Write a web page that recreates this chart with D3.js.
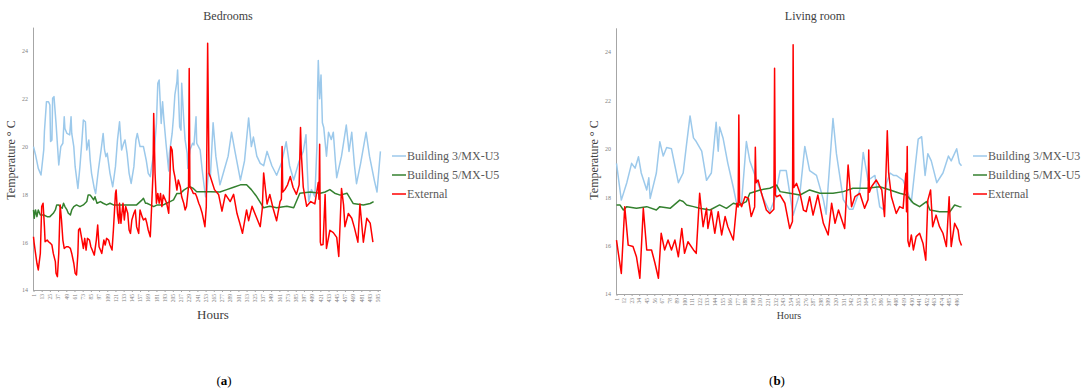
<!DOCTYPE html>
<html><head><meta charset="utf-8">
<script src="https://cdn.jsdelivr.net/npm/d3@7"></script>
<style>
body{margin:0;background:#fff}
svg{display:block}
text{font-family:"Liberation Serif","DejaVu Serif",serif}
</style>
</head><body>
<svg id="c" width="1088" height="391"></svg>
<script>
const seriesNames = ["Building 3/MX-U3", "Building 5/MX-U5", "External"];
const seriesColors = ["#9CC9EB", "#34812F", "#FF0000"];
const yTicks = [14, 16, 18, 20, 22, 24];
const bedTicks = [1,13,25,37,49,61,73,85,97,109,121,133,145,157,169,181,193,205,217,229,241,253,265,277,289,301,313,325,337,349,361,373,385,397,409,421,433,445,457,469,481,493,505];
const livTicks = [1,12,23,34,45,56,67,78,89,100,111,122,133,144,155,166,177,188,199,210,221,232,243,254,265,276,287,298,309,320,331,342,353,364,375,386,397,408,419,430,441,452,463,474,485,496];

// Bedrooms: [hour, °C]
const bedB3 = [[1,20.0],[4,19.65],[8,19.09],[12,18.81],[16,19.86],[17,20.63],[20,21.88],[23,21.88],[25,21.74],[26,20.21],[28,20.28],[29,22.02],[31,22.09],[34,20.97],[38,19.23],[41,20.0],[44,20.14],[46,21.25],[47,20.76],[50,20.55],[54,20.49],[56,21.25],[57,20.55],[60,20.0],[62,19.16],[66,18.25],[69,19.16],[72,20.28],[74,21.11],[77,21.04],[79,19.86],[82,20.28],[84,19.44],[86,18.88],[90,18.25],[92,18.04],[96,19.02],[100,19.86],[103,20.55],[105,19.86],[107,19.58],[109,19.72],[113,18.88],[117,18.32],[121,19.16],[124,20.28],[127,21.04],[130,19.86],[133,20.14],[135,20.28],[138,19.72],[141,18.88],[144,18.46],[148,19.16],[151,20.28],[153,20.55],[157,20.0],[162,20.0],[166,19.44],[169,18.88],[172,18.74],[174,19.16],[178,19.86],[181,20.97],[183,22.65],[185,22.79],[188,20.97],[190,21.88],[192,21.11],[195,20.14],[199,18.98],[200,19.72],[204,20.55],[206,21.25],[208,22.16],[211,22.72],[212,23.2],[215,20.83],[217,20.69],[218,22.65],[221,21.11],[223,20.28],[226,19.72],[227,19.09],[230,19.86],[234,20.14],[236,20.07],[239,21.25],[240,20.14],[245,19.86],[248,19.02],[251,18.32],[253,17.9],[255,18.18],[257,18.88],[260,18.74],[264,21.0],[268,19.6],[274,18.4],[280,19.0],[286,19.6],[291,20.6],[296,19.8],[304,18.6],[310,19.4],[316,21.2],[320,20.0],[323,20.4],[328,19.6],[333,19.3],[338,19.2],[343,19.8],[350,19.2],[357,18.8],[364,19.3],[371,20.2],[376,19.2],[382,18.6],[390,19.4],[396,19.8],[400,20.5],[402,19.0],[404,17.7],[408,18.2],[413,17.9],[416,20.0],[417,22.4],[418,23.6],[420,22.0],[422,23.0],[424,21.0],[426,20.8],[430,19.6],[433,20.6],[437,20.3],[440,20.6],[443,19.4],[445,18.7],[452,19.6],[459,20.9],[463,19.8],[467,20.6],[471,19.2],[474,18.45],[480,19.3],[488,20.6],[493,19.6],[500,18.6],[504,18.1],[509,19.8]];
const bedB5 = [[1,17.35],[2,17.0],[4,17.35],[6,17.07],[8,17.35],[11,17.14],[16,17.14],[21,17.07],[25,17.07],[30,17.21],[33,17.35],[35,17.56],[38,17.56],[40,17.49],[43,17.42],[45,17.63],[47,17.49],[50,17.35],[52,17.21],[55,17.14],[57,17.35],[60,17.49],[64,17.56],[69,17.49],[74,17.56],[79,17.70],[81,17.97],[84,17.97],[86,17.9],[89,17.77],[91,17.9],[94,17.63],[99,17.70],[103,17.63],[108,17.56],[113,17.63],[118,17.56],[123,17.56],[132,17.56],[142,17.56],[152,17.56],[160,17.77],[162,17.84],[165,17.63],[167,17.63],[172,17.56],[177,17.49],[182,17.56],[186,17.56],[191,17.56],[196,17.63],[201,17.70],[206,17.77],[211,18.04],[216,18.04],[221,18.18],[225,18.25],[230,18.32],[235,18.25],[240,18.11],[245,18.11],[250,18.11],[255,18.11],[260,18.11],[274,18.1],[284,18.2],[294,18.3],[304,18.4],[313,18.4],[320,18.2],[328,17.9],[338,17.44],[347,17.5],[357,17.44],[372,17.5],[382,17.44],[391,18.05],[406,18.1],[421,18.05],[428,18.1],[435,18.2],[442,18.05],[450,17.97],[460,18.05],[469,17.62],[484,17.56],[494,17.62],[499,17.7]];
const bedExt = [[1,16.23],[2,15.95],[4,15.53],[6,15.12],[8,14.84],[11,15.53],[13,17.49],[15,17.63],[17,16.65],[18,16.02],[21,16.09],[23,16.02],[26,15.95],[28,15.88],[30,15.53],[33,15.19],[34,14.7],[36,14.56],[38,15.53],[40,17.56],[42,16.93],[44,16.09],[46,15.74],[49,15.81],[52,15.81],[55,15.74],[57,15.53],[60,15.12],[62,14.7],[64,14.63],[66,15.53],[67,16.51],[69,16.58],[72,16.09],[74,15.74],[76,16.16],[78,15.67],[80,16.16],[83,16.09],[85,15.81],[87,15.67],[90,15.46],[93,16.09],[95,16.72],[97,15.81],[99,15.67],[101,15.53],[104,16.09],[106,15.88],[108,16.16],[111,16.09],[113,15.88],[116,15.67],[118,16.51],[121,18.04],[122,18.18],[124,17.21],[126,16.79],[127,17.63],[129,16.79],[132,17.63],[134,16.93],[136,17.49],[139,17.21],[141,16.51],[143,16.37],[145,16.93],[148,17.21],[150,17.35],[152,16.65],[155,16.37],[157,17.35],[160,17.07],[162,16.93],[165,17.0],[167,16.79],[169,16.51],[172,16.23],[174,17.49],[176,18.88],[177,21.39],[179,18.88],[181,17.63],[183,18.04],[185,17.63],[187,18.04],[189,17.49],[191,17.97],[194,17.77],[196,17.63],[199,17.21],[200,17.9],[202,20.0],[204,19.86],[206,19.02],[208,18.74],[211,18.18],[213,18.6],[216,18.32],[218,17.9],[221,17.63],[223,17.35],[225,17.49],[228,18.32],[229,23.27],[230,18.32],[233,18.18],[235,18.04],[238,18.04],[240,17.9],[243,17.63],[245,17.49],[248,17.21],[250,16.93],[252,16.65],[254,17.49],[255,20.5],[256,24.32],[258,18.88],[260,18.74],[266,18.2],[272,18.0],[277,17.3],[282,18.0],[289,17.7],[294,18.0],[299,17.2],[303,16.8],[307,16.37],[313,17.35],[316,16.9],[321,17.5],[328,17.0],[333,16.65],[336,17.4],[338,18.9],[343,17.6],[347,18.0],[352,17.4],[357,16.9],[362,17.7],[364,17.8],[365,20.0],[366,18.1],[369,18.2],[373,18.4],[377,18.75],[381,18.3],[386,18.0],[390,18.4],[392,20.8],[393,19.8],[396,18.3],[401,17.5],[407,17.7],[413,17.6],[418,18.5],[419,17.8],[420,20.1],[421,16.0],[422,15.88],[425,15.9],[428,18.0],[430,15.74],[435,16.5],[440,16.4],[445,16.2],[448,15.4],[452,18.25],[455,17.56],[457,16.65],[462,17.2],[467,17.0],[471,16.6],[476,16.0],[479,17.6],[484,16.0],[489,17.0],[494,16.8],[498,16.0]];

// Living room: [hour, °C]
const livB3 = [[1,19.4],[8,17.88],[16,18.6],[23,19.4],[28,19.2],[33,19.67],[37,19.0],[45,18.3],[48,18.8],[50,17.95],[59,19.0],[64,20.29],[69,19.7],[74,20.05],[81,20.0],[86,19.3],[91,18.6],[98,19.0],[103,20.2],[108,21.36],[113,20.45],[117,20.3],[125,19.9],[132,18.7],[139,19.0],[146,21.1],[149,19.9],[151,20.9],[156,20.45],[163,19.4],[171,18.4],[176,17.7],[183,17.8],[190,20.3],[195,19.5],[205,18.7],[214,18.0],[224,17.4],[231,17.9],[239,19.1],[248,19.1],[258,17.25],[268,18.2],[275,20.1],[282,19.1],[292,18.9],[302,17.9],[306,17.3],[316,21.25],[321,19.8],[331,17.9],[340,17.5],[345,17.5],[355,18.3],[360,19.85],[367,18.7],[377,18.9],[384,17.6],[389,17.5],[394,18.6],[399,19.0],[404,18.9],[408,18.9],[418,18.7],[430,17.8],[440,20.4],[445,20.5],[450,18.9],[454,19.8],[459,19.5],[467,18.6],[476,19.0],[484,19.7],[488,19.5],[496,20.0],[500,19.4],[503,19.3]];
const livB5 = [[1,17.68],[6,17.68],[11,17.47],[16,17.61],[30,17.54],[45,17.61],[59,17.47],[64,17.61],[79,17.54],[93,17.88],[98,17.82],[103,17.68],[113,17.61],[122,17.54],[137,17.47],[151,17.68],[161,17.54],[171,17.75],[180,17.68],[190,17.82],[195,18.16],[210,18.3],[224,18.37],[234,18.5],[239,18.23],[253,18.16],[268,18.09],[282,18.3],[297,18.16],[316,18.16],[331,18.23],[345,18.37],[365,18.37],[384,18.43],[399,18.3],[413,18.16],[423,18.09],[433,17.75],[442,17.61],[452,17.82],[457,17.47],[471,17.4],[486,17.4],[493,17.68],[500,17.61],[503,17.6]];
const livExt = [[1,16.23],[3,15.82],[8,14.85],[13,17.61],[18,16.02],[25,15.96],[30,15.54],[35,14.65],[40,17.54],[45,15.82],[52,15.82],[57,15.27],[62,14.65],[66,16.51],[71,15.82],[76,16.23],[81,15.82],[86,16.23],[91,15.54],[96,16.71],[100,15.68],[105,16.16],[113,15.82],[117,15.68],[122,18.16],[127,16.78],[132,17.54],[134,16.71],[139,17.47],[144,16.51],[149,17.4],[154,16.44],[159,17.2],[163,16.78],[171,16.23],[176,17.75],[178,17.6],[179,21.4],[180,17.8],[183,17.61],[188,18.02],[193,17.95],[197,17.2],[202,17.6],[203,20.06],[204,18.6],[207,18.71],[212,18.16],[219,17.47],[224,17.33],[230,17.5],[231,23.33],[232,18.1],[234,18.02],[239,18.09],[246,17.75],[253,16.71],[257,17.0],[258,24.3],[259,18.4],[263,18.57],[268,18.16],[273,17.47],[277,17.4],[282,18.02],[287,17.26],[294,18.09],[302,16.92],[309,16.44],[314,17.75],[319,16.92],[324,17.47],[333,16.71],[338,19.33],[343,17.61],[348,18.02],[355,18.16],[362,17.54],[367,17.9],[368,19.95],[369,18.2],[372,18.43],[379,18.71],[387,18.3],[391,17.2],[394,19.8],[395,20.75],[397,19.0],[401,18.02],[408,17.33],[413,17.61],[418,17.54],[422,18.99],[423,17.4],[424,20.09],[425,16.2],[427,15.96],[430,16.44],[433,15.82],[437,16.37],[442,16.51],[447,16.09],[451,15.4],[454,17.88],[458,18.3],[461,16.78],[466,17.26],[471,16.78],[476,16.51],[481,15.96],[485,18.02],[488,15.96],[493,16.92],[498,16.64],[500,16.23],[503,16.0]];

const svg = d3.select("#c");

function drawChart(cfg) {
  const g = svg.append("g");
  const x = d3.scaleLinear().domain([1, cfg.lastTick]).range([cfg.x0, cfg.x1]);
  const y = d3.scaleLinear().domain([14, 25]).range([cfg.y0, cfg.yTop]);

  g.append("text").attr("x", cfg.titleX).attr("y", 20).attr("text-anchor", "middle")
    .attr("font-size", 12).attr("fill", "#404040").text(cfg.title);

  const ya = g.append("g").attr("transform", `translate(${cfg.x0 - 0.5},0)`)
    .call(d3.axisLeft(y).tickValues(yTicks).tickSize(0).tickPadding(5));
  ya.select(".domain").attr("stroke", "#A6A6A6").attr("stroke-width", 1);
  ya.selectAll("text").attr("font-size", 6).attr("fill", "#7F7F7F")
    .style("font-family", "'Liberation Serif',serif");

  const xa = g.append("g").attr("transform", `translate(0,${cfg.y0})`)
    .call(d3.axisBottom(x).tickValues(cfg.ticks).tickSize(2).tickSizeOuter(0).tickPadding(2));
  xa.select(".domain").attr("stroke", "#A6A6A6").attr("d", `M${cfg.x0 - 0.5},0.5H${cfg.axisEnd}`);
  xa.selectAll(".tick line").attr("stroke", "#A6A6A6");
  xa.selectAll("text").attr("font-size", 5.5).attr("fill", "#7F7F7F")
    .attr("transform", "rotate(-90)").attr("text-anchor", "end")
    .attr("x", -4).attr("y", 0).attr("dy", "0.32em")
    .style("font-family", "'Liberation Serif',serif");

  g.append("text").attr("x", cfg.xTitleX).attr("y", cfg.xTitleY).attr("text-anchor", "middle")
    .attr("font-size", cfg.xTitleSize).attr("fill", "#404040").text("Hours");
  g.append("text").attr("transform", `translate(${cfg.yTitleX},${cfg.yTitleY}) rotate(-90)`)
    .attr("text-anchor", "middle").attr("font-size", 12).attr("fill", "#404040")
    .text("Temperature ° C");

  const line = d3.line().x(d => x(d[0])).y(d => y(d[1]));
  cfg.series.forEach((s, i) => {
    g.append("path").datum(s).attr("d", line).attr("fill", "none")
      .attr("stroke", seriesColors[i]).attr("stroke-width", 1.5)
      .attr("stroke-linejoin", "round");
  });

  seriesNames.forEach((n, i) => {
    const ly = cfg.legY + i * 19;
    g.append("line").attr("x1", cfg.legX).attr("x2", cfg.legX + 14).attr("y1", ly).attr("y2", ly)
      .attr("stroke", seriesColors[i]).attr("stroke-width", 1.5);
    g.append("text").attr("x", cfg.legX + 15).attr("y", ly).attr("dy", "0.35em")
      .attr("font-size", 12).attr("fill", "#595959").text(n);
  });

  const cap = g.append("text").attr("x", cfg.capX).attr("y", 385).attr("text-anchor", "middle")
    .attr("font-size", 13).attr("fill", "#000");
  cap.append("tspan").text("(");
  cap.append("tspan").attr("font-weight", "bold").text(cfg.cap);
  cap.append("tspan").text(")");
}

drawChart({
  title: "Bedrooms", titleX: 228, ticks: bedTicks, lastTick: 505,
  x0: 33.5, x1: 377.7, axisEnd: 381, y0: 290, yTop: 27.1,
  xTitleX: 213, xTitleY: 319, xTitleSize: 13, yTitleX: 15, yTitleY: 160,
  series: [bedB3, bedB5, bedExt], legX: 392, legY: 156, capX: 224, cap: "a"
});
drawChart({
  title: "Living room", titleX: 815, ticks: livTicks, lastTick: 496,
  x0: 616.5, x1: 956.7, axisEnd: 963, y0: 294, yTop: 27.8,
  xTitleX: 789, xTitleY: 319, xTitleSize: 10, yTitleX: 598, yTitleY: 160,
  series: [livB3, livB5, livExt], legX: 973, legY: 156, capX: 777, cap: "b"
});
</script>
</body></html>
